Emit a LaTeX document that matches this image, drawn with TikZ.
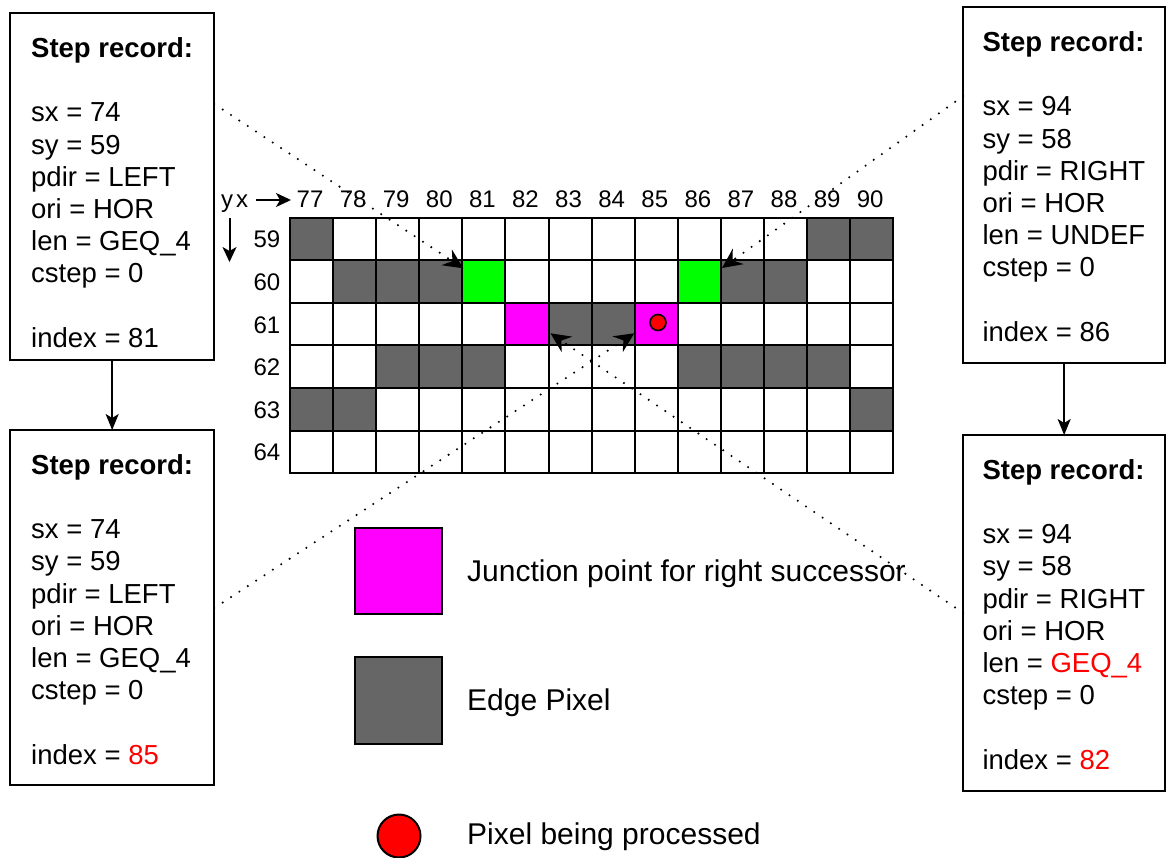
\documentclass[tikz,border=0pt]{standalone}
\usepackage{fontspec}
\setmainfont{Liberation Sans}
\usetikzlibrary{arrows.meta,calc}
\definecolor{edgegray}{HTML}{666666}
\definecolor{jgreen}{HTML}{00FF00}
\definecolor{jmag}{HTML}{FF00FF}
\definecolor{pred}{HTML}{FF0000}
\begin{document}
\begin{tikzpicture}[x=1pt,y=-1pt,
  cell/.style={draw=black, line width=2pt, minimum width=43.093pt, minimum height=42.63pt, inner sep=0pt, outer sep=0pt, anchor=north west},
  recbox/.style={draw=black, line width=2pt, inner sep=0pt, outer sep=0pt, anchor=north west, fill=white},
  rectext/.style={align=left, inner sep=0pt, anchor=north west, font=\fontsize{27.5pt}{32.2pt}\selectfont},
  lab/.style={inner sep=0pt, font=\fontsize{24pt}{28pt}\selectfont},
  legtext/.style={inner sep=0pt, anchor=base west, font=\fontsize{30pt}{36pt}\selectfont},
  dotline/.style={line width=2.3pt, dash pattern=on 0pt off 10pt, line cap=round},
  dothead/.style={draw=none, fill=black},
  flowarrow/.style={line width=2pt, -{Stealth[length=16pt,width=13pt,inset=4pt]}},
  axisarrow/.style={line width=2pt, -{Stealth[length=15pt,width=14pt,inset=4pt]}}
]
\useasboundingbox (0,0) rectangle (1166,857);
\fill[white] (0,0) rectangle (1166,857);

% grid
\foreach \c in {0,...,13}
  \foreach \r in {0,...,5}
    \node[cell, fill=white] (c\c-\r) at ({290+\c*43.093},{217.5+\r*42.63}) {};
\foreach \c/\r/\f in {0/0/edgegray,12/0/edgegray,13/0/edgegray,
  1/1/edgegray,2/1/edgegray,3/1/edgegray,4/1/jgreen,9/1/jgreen,10/1/edgegray,11/1/edgegray,
  5/2/jmag,6/2/edgegray,7/2/edgegray,8/2/jmag,
  2/3/edgegray,3/3/edgegray,4/3/edgegray,9/3/edgegray,10/3/edgegray,11/3/edgegray,12/3/edgegray,
  0/4/edgegray,1/4/edgegray,13/4/edgegray}
  \node[cell, fill=\f] (f\c-\r) at ({290+\c*43.093},{217.5+\r*42.63}) {};
\node[circle, draw=black, line width=1.6pt, fill=pred, minimum size=16pt, inner sep=0pt] (proc) at (658,322.5) {};

% column and row labels
\foreach \c [evaluate=\c as \v using int(77+\c)] in {0,...,13}
  \node[lab, anchor=base] (col\c) at ({290+\c*43.093+20},207) {\v};
\foreach \r [evaluate=\r as \v using int(59+\r)] in {0,...,5}
  \node[lab, anchor=base east] (row\r) at (280.5,{217.5+\r*42.63+21.3+9}) {\v};

% axis labels
\node[lab, anchor=base west] (ylab) at (221,207) {y};
\node[lab, anchor=base west] (xlab) at (236,207) {x};
\coordinate (xa0) at (256,200);
\coordinate (xa1) at (291,200);
\coordinate (ya0) at (229.5,218);
\coordinate (ya1) at (229.5,262);
\draw[axisarrow] (xa0) -- (xa1);
\draw[axisarrow] (ya0) -- (ya1);

% record boxes
\node[recbox, minimum width=204.3pt, minimum height=346.7pt] (tl) at (10,13.3) {};
\node[recbox, minimum width=204.3pt, minimum height=355pt] (bl) at (10,430) {};
\node[recbox, minimum width=201.7pt, minimum height=356pt] (tr) at (963.3,7.3) {};
\node[recbox, minimum width=201.7pt, minimum height=355.7pt] (br) at (963.3,435) {};

\node[rectext] (tltext) at ($(tl.north west)+(21,19)$) {\rule{0pt}{25pt}\textbf{Step record:}\\[32.2pt]
  sx = 74\\ sy = 59\\ pdir = LEFT\\ ori = HOR\\ len = GEQ\_4\\ cstep = 0\\[32.2pt] index = 81};
\node[rectext] (bltext) at ($(bl.north west)+(21,19)$) {\rule{0pt}{25pt}\textbf{Step record:}\\[32.2pt]
  sx = 74\\ sy = 59\\ pdir = LEFT\\ ori = HOR\\ len = GEQ\_4\\ cstep = 0\\[32.2pt] index = \textcolor{pred}{85}};
\node[rectext] (trtext) at ($(tr.north west)+(19,19)$) {\rule{0pt}{25pt}\textbf{Step record:}\\[32.2pt]
  sx = 94\\ sy = 58\\ pdir = RIGHT\\ ori = HOR\\ len = UNDEF\\ cstep = 0\\[32.2pt] index = 86};
\node[rectext] (brtext) at ($(br.north west)+(19,19)$) {\rule{0pt}{25pt}\textbf{Step record:}\\[32.2pt]
  sx = 94\\ sy = 58\\ pdir = RIGHT\\ ori = HOR\\ len = \textcolor{pred}{GEQ\_4}\\ cstep = 0\\[32.2pt] index = \textcolor{pred}{82}};

\draw[flowarrow] (tl.south) -- (bl.north);
\draw[flowarrow] (tr.south) -- (br.north);

% legend
\node[draw=black, line width=2pt, fill=jmag, minimum width=86.7pt, minimum height=86pt, inner sep=0pt, anchor=north west] (legjunc) at (354.3,527.3) {};
\node[draw=black, line width=2pt, fill=edgegray, minimum width=86.7pt, minimum height=86.7pt, inner sep=0pt, anchor=north west] (legedge) at (354.3,656) {};
\node[circle, draw=black, line width=2pt, fill=pred, minimum size=43pt, inner sep=0pt] (legproc) at (399,836) {};
\node[legtext] (legjunctext) at (467,581.7) {Junction point for right successor};
\node[legtext] (legedgetext) at (467,710) {Edge Pixel};
\node[legtext] (legproctext) at (467,844.3) {Pixel being processed};

% dotted connectors with solid concave arrowheads
\coordinate (s1) at ($(tl.north east)+(0,90.7)$);
\coordinate (t1) at (463.3,268.3);
\coordinate (s2) at ($(tr.north west)+(0,88.7)$);
\coordinate (t2) at (722,268);
\coordinate (s3) at ($(bl.north east)+(0,178)$);
\coordinate (t3) at (634.3,333.3);
\coordinate (s4) at ($(br.north west)+(0,178)$);
\coordinate (t4) at (550.5,333.3);
\foreach \s/\t in {s1/t1, s2/t2, s3/t3, s4/t4} {
  \draw[dotline] (\s) -- ($(\t)!14pt!(\s)$);
  \fill[dothead] (\t) -- ($(\t)!20pt!(\s)!9.5pt!90:(\s)$) -- ($(\t)!13pt!(\s)$) -- ($(\t)!20pt!(\s)!9.5pt!-90:(\s)$) -- cycle;
}
\end{tikzpicture}
\end{document}
